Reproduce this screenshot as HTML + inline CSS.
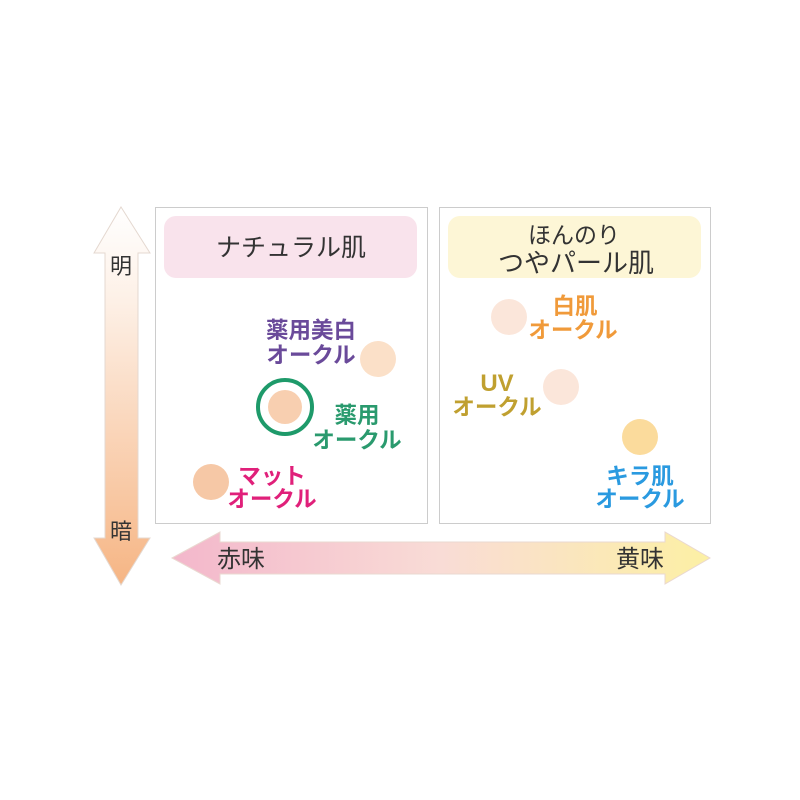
<!DOCTYPE html>
<html><head><meta charset="utf-8"><style>
html,body{margin:0;padding:0;background:#fff;}
svg{display:block;}
text{font-family:"Liberation Sans","Noto Sans CJK JP",sans-serif;}
</style></head><body>
<svg width="800" height="800" viewBox="0 0 800 800" xmlns="http://www.w3.org/2000/svg">
<defs>
<linearGradient id="gv" x1="0" y1="0" x2="0" y2="1">
<stop offset="0" stop-color="#ffffff"/><stop offset="0.25" stop-color="#fdf0e6"/><stop offset="1" stop-color="#f6b584"/>
</linearGradient>
<linearGradient id="gh" x1="0" y1="0" x2="1" y2="0">
<stop offset="0" stop-color="#f3b7cb"/><stop offset="0.5" stop-color="#f9dcd6"/><stop offset="1" stop-color="#fcf0a4"/>
</linearGradient>
</defs>
<polygon points="121,207 150,253 138,253 138,538 150,538 121,585 94,538 105,538 105,253 94,253" fill="url(#gv)" stroke="#e4d8d0" stroke-width="1"/>
<text x="121" y="274" font-size="22" text-anchor="middle" fill="#333">明</text>
<text x="121" y="539" font-size="22" text-anchor="middle" fill="#333">暗</text>
<polygon points="172,558 220,532 220,542 665,542 665,532 710,558 665,584 665,574 220,574 220,584" fill="url(#gh)" stroke="#ead8d0" stroke-width="1"/>
<text x="241" y="567" font-size="24" text-anchor="middle" fill="#333">赤味</text>
<text x="640" y="567" font-size="24" text-anchor="middle" fill="#333">黄味</text>
<rect x="155.5" y="207.5" width="272" height="316" fill="#fff" stroke="#ccc" stroke-width="1"/>
<rect x="439.5" y="207.5" width="271" height="316" fill="#fff" stroke="#ccc" stroke-width="1"/>
<rect x="164" y="216" width="253" height="62" rx="12" fill="#f9e3ec"/>
<rect x="448" y="216" width="253" height="62" rx="12" fill="#fdf6d6"/>
<text x="291" y="256" font-size="25" text-anchor="middle" fill="#333">ナチュラル肌</text>
<text x="574" y="243" font-size="23" text-anchor="middle" fill="#333">ほんのり</text>
<text x="576" y="272" font-size="26" text-anchor="middle" fill="#333">つやパール肌</text>
<circle cx="378" cy="359" r="18" fill="#fbe0c8"/>
<circle cx="285" cy="407" r="27" fill="none" stroke="#1e9a6a" stroke-width="4"/>
<circle cx="285" cy="407" r="17" fill="#f8cfb0"/>
<circle cx="211" cy="482" r="18" fill="#f6c8a6"/>
<g font-size="22.5" font-weight="bold" text-anchor="middle">
<text x="311" y="338" fill="#6a4a9a">薬用美白</text>
<text x="311" y="363" fill="#6a4a9a">オークル</text>
<text x="357" y="423" fill="#2a9a6e">薬用</text>
<text x="357" y="448" fill="#2a9a6e">オークル</text>
<text x="272" y="484" fill="#e0207a">マット</text>
<text x="272" y="507" fill="#e0207a">オークル</text>
<text x="575" y="314" fill="#f09a3a">白肌</text>
<text x="573" y="338" fill="#f09a3a">オークル</text>
<text x="497" y="391" fill="#c0a030" font-size="24">UV</text>
<text x="497" y="415" fill="#c0a030">オークル</text>
<text x="640" y="484" fill="#2a9ae0">キラ肌</text>
<text x="640" y="507" fill="#2a9ae0">オークル</text>
</g>
<circle cx="509" cy="317" r="18" fill="#fbe6da"/>
<circle cx="561" cy="387" r="18" fill="#fbe6da"/>
<circle cx="640" cy="437" r="18" fill="#fbdb9c"/>
</svg>
</body></html>
